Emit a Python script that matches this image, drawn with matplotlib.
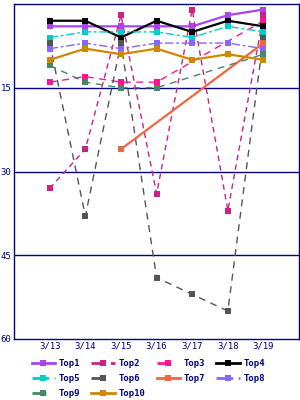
from matplotlib import pyplot as plt
from matplotlib.lines import Line2D
import numpy as np

dates = ["3/13", "3/14", "3/15", "3/16", "3/17", "3/18", "3/19"]

nan = np.nan
top1 = [4, 4, 4, 4, 4, 2, 1]
top2 = [33, 26, 2, 34, 1, 37, 2]
top3 = [14, 13, 14, 14, nan, nan, 3]
top4 = [3, 3, 6, 3, 5, 3, 4]
top5 = [6, 5, 5, 5, 6, 4, 5]
top6 = [7, 38, 7, 49, 52, 55, 6]
top7 = [nan, nan, 26, nan, nan, nan, 7]
top8 = [8, 7, 8, 7, 7, 7, 8]
top9 = [11, 14, 15, 15, nan, nan, 9]
top10 = [10, 8, 9, 8, 10, 9, 10]

series = [
    ("Top1", top1, "#aa44ee", "-"),
    ("Top2", top2, "#cc2288", (0, (4, 3))),
    ("Top3", top3, "#ff1493", (0, (5, 4))),
    ("Top4", top4, "#000000", "-"),
    ("Top5", top5, "#00cccc", (0, (6, 2, 2, 2))),
    ("Top6", top6, "#555555", (0, (5, 4))),
    ("Top7", top7, "#ee6644", "-"),
    ("Top8", top8, "#8866ff", (0, (6, 2, 2, 2))),
    ("Top9", top9, "#448866", (0, (5, 4))),
    ("Top10", top10, "#cc8800", "-"),
]

navy = "#000080"

fig = plt.figure(figsize=(3, 4), dpi=100, facecolor="white")
ax = fig.add_axes([0.047, 0.1525, 0.95, 0.8375])

x = np.arange(len(dates))
handles = []
for name, vals, color, ls in series:
    v = np.array(vals, dtype=float)
    ok = ~np.isnan(v)
    dashed = ls != "-"
    lw = 1.0 if dashed else 1.6
    ax.plot(x[ok], v[ok], color=color, linestyle=ls, linewidth=lw,
            marker="s", markersize=4.5, markeredgewidth=0)
    handles.append(Line2D([0], [0], color=color, linestyle=ls, linewidth=2,
                          marker="s", markersize=5, markeredgewidth=0, label=name))

ax.set_xlim(-1, 7)
ax.set_ylim(60, 0)
ax.set_xticks(x)
ax.set_xticklabels(dates)
ax.set_yticks([15, 30, 45, 60])
for yv in [15, 30, 45]:
    ax.axhline(yv, color=navy, linewidth=1, zorder=0)

for s in ax.spines.values():
    s.set_color(navy)
    s.set_linewidth(1)
ax.tick_params(length=0, colors=navy, labelsize=6.5, pad=2)
for lab in ax.get_xticklabels() + ax.get_yticklabels():
    lab.set_family("DejaVu Sans Mono")

# legend fills column-first, so reorder to read row by row
order = [0, 4, 8, 1, 5, 9, 2, 6, 3, 7]
fig.legend(handles=[handles[i] for i in order], ncol=4, loc="upper left",
           bbox_to_anchor=(0.105, 0.103), frameon=False,
           prop={"family": "DejaVu Sans Mono", "size": 6.5, "weight": "bold"},
           labelcolor=navy, handlelength=2.6, handletextpad=0.4,
           columnspacing=1.25, labelspacing=0.7, borderpad=0, borderaxespad=0)

plt.savefig("out.png", dpi=100)
